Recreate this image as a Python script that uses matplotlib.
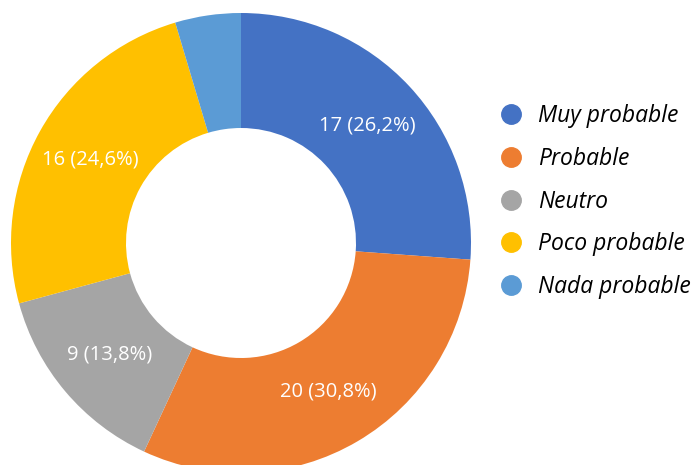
import matplotlib.pyplot as plt
from matplotlib.lines import Line2D

categories = ['Muy probable', 'Probable', 'Neutro', 'Poco probable', 'Nada probable']
counts = [17, 20, 9, 16, 3]
colors = ['#4472C4', '#ED7D31', '#A5A5A5', '#FFC000', '#5B9BD5']
total = sum(counts)

plt.rcParams['font.family'] = ['Open Sans', 'DejaVu Sans']

fig = plt.figure(figsize=(6.93, 4.65), dpi=100)
ax = fig.add_axes([0, 0, 1, 1])


def fmt(pct):
    n = int(round(pct * total / 100.0))
    if n < 5:
        return ''
    return '%d (%s%%)' % (n, ('%.1f' % pct).replace('.', ','))


wedges, texts, autotexts = ax.pie(counts, colors=colors, startangle=90, counterclock=False,
                                  center=(241, 222), radius=230, frame=True,
                                  autopct=fmt, pctdistance=0.75,
                                  wedgeprops=dict(width=115, linewidth=0),
                                  textprops=dict(color='white', fontsize=14.5))
ax.set_xlim(0, 693)
ax.set_ylim(0, 465)
ax.set_aspect('equal')
ax.axis('off')

handles = [Line2D([], [], marker='o', ls='', color=c, markersize=14) for c in colors]
ax.legend(handles, categories, loc='upper left', bbox_to_anchor=(488 / 693, 1 - 104 / 465),
          frameon=False, prop=dict(style='italic', size=16.5), handletextpad=0.2,
          labelspacing=0.82, borderaxespad=0, borderpad=0)

fig.savefig('out.png', dpi=100)
